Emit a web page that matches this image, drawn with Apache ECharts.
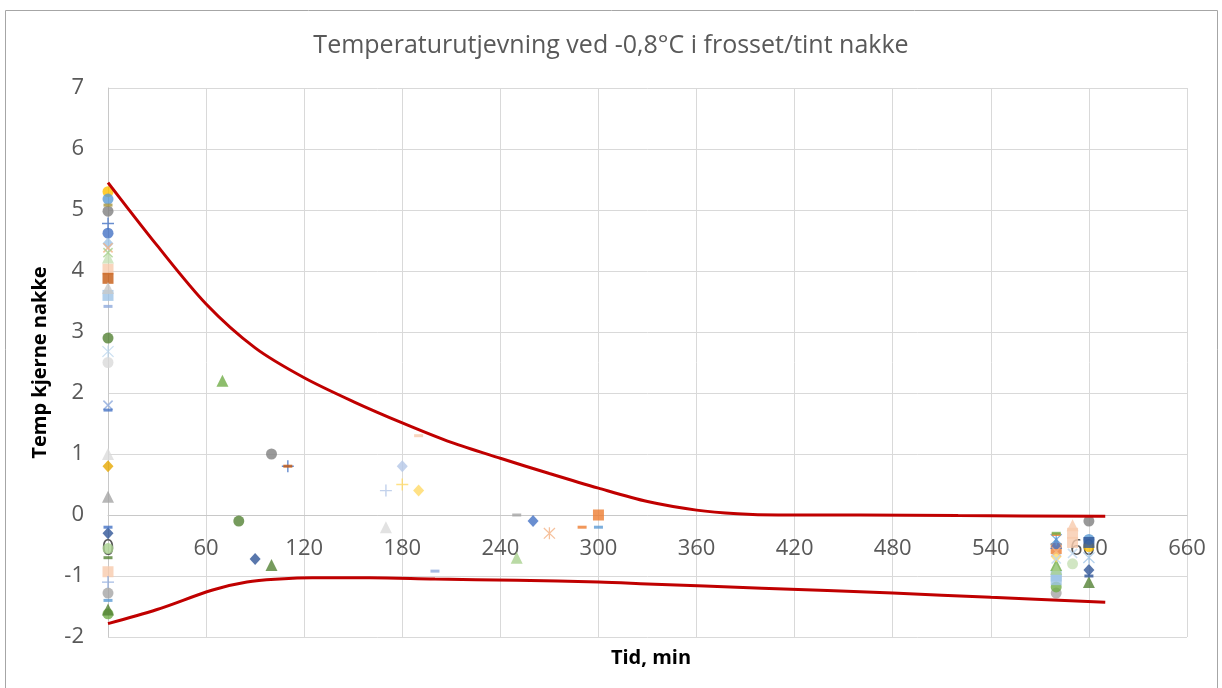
<!DOCTYPE html>
<html>
<head>
<meta charset="utf-8">
<script src="https://cdn.jsdelivr.net/npm/echarts@6/dist/echarts.min.js"></script>
<style>
  html, body { margin: 0; padding: 0; background: #fff; }
  #chart { width: 1222px; height: 688px; }
</style>
</head>
<body>
<div id="chart"></div>
<script>
// Axis ticks
const xTicks = [0, 60, 120, 180, 240, 300, 360, 420, 480, 540, 600, 660];
const yTicks = [-2, -1, 0, 1, 2, 3, 4, 5, 6, 7];

// Envelope curves (time in min, core temperature in °C)
const upperT = [0, 30, 60, 90, 120, 150, 180, 210, 240, 270, 300, 330, 360, 385, 410, 460, 520, 610];
const upperV = [5.45, 4.42, 3.46, 2.74, 2.25, 1.86, 1.51, 1.19, 0.93, 0.68, 0.44, 0.22, 0.08, 0.02, 0.0, 0.0, -0.01, -0.02];
const lowerT = [0, 30, 64, 85, 105, 125, 160, 200, 250, 300, 330, 400, 480, 540, 610];
const lowerV = [-1.78, -1.55, -1.23, -1.1, -1.05, -1.03, -1.03, -1.05, -1.07, -1.1, -1.13, -1.2, -1.28, -1.35, -1.43];

// Measurements, grouped by marker shape: [time, temp]
const circlePts = [[0, 5.3], [600, -0.52], [0, 5.18], [600, -0.4], [0, 4.98], [100, 1.0], [600, -0.1],
  [0, 4.62], [0, 2.9], [80, -0.1], [0, 2.5], [0, -0.55], [590, -0.8], [0, -1.28], [580, -1.28],
  [0, -1.62], [580, -1.18]];
const circleCols = ['#FFC000', '#FFC000', '#5B9BD5', '#5B9BD5', '#7F7F7F', '#7F7F7F', '#7F7F7F',
  '#4472C4', '#548235', '#548235', '#D9D9D9', '#A9D18E', '#C5E0B4', '#A5A5A5', '#A5A5A5',
  '#70AD47', '#70AD47'];

const squarePts = [[0, 4.03], [0, -0.93], [590, -0.3], [590, -0.45], [0, 3.88], [0, 3.6], [580, -1.0], [580, -1.06],
  [300, 0.0], [580, -0.55], [600, -0.45]];
const squareCols = ['#F8CBAD', '#F8CBAD', '#F8CBAD', '#F8CBAD', '#C55A11', '#9DC3E6', '#9DC3E6', '#9DC3E6',
  '#ED7D31', '#ED7D31', '#2F5597'];

const trianglePts = [[0, 3.72], [0, 1.0], [170, -0.2], [0, 0.3], [0, -1.55], [100, -0.82], [600, -1.1],
  [70, 2.2], [580, -0.82], [250, -0.7], [580, -0.88], [580, -0.46], [590, -0.17], [0, 4.22]];
const triangleCols = ['#C9C9C9', '#DBDBDB', '#DBDBDB', '#A5A5A5', '#548235', '#548235', '#548235',
  '#70AD47', '#70AD47', '#A9D18E', '#A9D18E', '#4472C4', '#F8CBAD', '#C5E0B4'];

const diamondPts = [[0, 4.45], [0, 0.8], [0, -0.3], [90, -0.72], [600, -0.9], [180, 0.8], [190, 0.4],
  [580, -0.68], [260, -0.1]];
const diamondCols = ['#9DC3E6', '#E6A800', '#2F5597', '#2F5597', '#2F5597', '#B4C7E7', '#FFD966',
  '#FFD966', '#4472C4'];

const plusPts = [[0, 4.78], [110, 0.8], [0, -1.1], [170, 0.4], [180, 0.5]];
const plusCols = ['#4472C4', '#4472C4', '#8FAADC', '#B4C7E7', '#FFD966'];

const crossPts = [[0, 4.38], [580, -0.6], [0, 4.3], [0, 1.8], [590, -0.63], [580, -0.72]];
const crossCols = ['#F4B183', '#F4B183', '#A9D18E', '#8FAADC', '#BDD7EE', '#BDD7EE'];

const starPts = [[0, 2.68], [600, -0.7], [270, -0.3], [580, -0.4]];
const starCols = ['#BDD7EE', '#9DC3E6', '#F4B183', '#5B9BD5'];

const dashPts = [[0, 5.08], [0, 3.42], [200, -0.92], [0, 1.72], [0, -0.2], [0, -0.7], [0, -1.4],
  [110, 0.8], [190, 1.3], [250, 0.0], [290, -0.2], [580, -0.32], [300, -0.2], [580, -0.3], [600, -1.0]];
const dashCols = ['#A5933C', '#8FAADC', '#8FAADC', '#4472C4', '#4472C4', '#548235', '#5B9BD5',
  '#C55A11', '#F8CBAD', '#A5A5A5', '#ED7D31', '#ED7D31', '#5B9BD5', '#70AD47', '#2F5597'];

// Marker shapes
const PLUS = 'path://M4.4,0h1.2v4.4h4.4v1.2h-4.4v4.4h-1.2v-4.4h-4.4v-1.2h4.4z';
const STAR = 'path://M4.5,0h1v10h-1z M0.9,0.2l8.9,8.9l-0.7,0.7l-8.9,-8.9z M9.1,0.2l0.7,0.7l-8.9,8.9l-0.7,-0.7z';

// Plot area geometry
const GRID = { left: 108, right: 35, top: 88, bottom: 51 };
const PLOT_H = 688 - GRID.top - GRID.bottom;
// the time axis is drawn across the 0 °C level
const zeroOffset = -PLOT_H * (0 - yTicks[0]) / (yTicks[yTicks.length - 1] - yTicks[0]);

function pairs(ts, vs) {
  return ts.map((t, i) => [t, vs[i]]);
}

function markerSeries(name, pts, cols, symbol, size, rotate) {
  return {
    name: name,
    type: 'scatter',
    symbol: symbol,
    symbolSize: size,
    symbolRotate: rotate || 0,
    z: 3,
    data: pts.map((p, i) => ({ value: p, itemStyle: { color: cols[i] } }))
  };
}

const curveStyle = { color: '#C00000', width: 3 };

const chart = echarts.init(document.getElementById('chart'), null, { renderer: 'canvas' });

const option = {
  backgroundColor: '#ffffff',
  animation: false,
  title: [
    {
      text: 'Temperaturutjevning ved -0,8°C i frosset/tint nakke',
      left: 'center',
      top: 28,
      textStyle: { fontFamily: 'Open Sans', fontSize: 25, fontWeight: 'normal', color: '#595959' }
    },
    {
      text: 'Tid, min',
      left: 646,
      top: 643,
      textAlign: 'center',
      textStyle: { fontFamily: 'Open Sans', fontSize: 20, fontWeight: 'bold', color: '#000000' }
    }
  ],
  graphic: [
    {
      type: 'rect',
      shape: { x: 5.5, y: 10.5, width: 1212, height: 690 },
      style: { fill: 'none', stroke: '#A6A6A6', lineWidth: 1 },
      silent: true,
      z: -1
    }
  ],
  grid: { left: GRID.left, right: GRID.right, top: GRID.top, bottom: GRID.bottom, containLabel: false },
  xAxis: {
    type: 'value',
    position: 'bottom',
    offset: zeroOffset,
    min: xTicks[0],
    max: xTicks[xTicks.length - 1],
    interval: xTicks[1] - xTicks[0],
    axisLine: { show: true, onZero: false, lineStyle: { color: '#C8C8C8', width: 1 } },
    axisTick: { show: false },
    axisLabel: {
      margin: 23,
      fontFamily: 'Open Sans',
      fontSize: 22,
      color: '#595959',
      showMinLabel: true,
      showMaxLabel: true
    },
    splitLine: { show: true, lineStyle: { color: '#D9D9D9', width: 1 } }
  },
  yAxis: {
    type: 'value',
    min: yTicks[0],
    max: yTicks[yTicks.length - 1],
    interval: yTicks[1] - yTicks[0],
    name: 'Temp kjerne nakke',
    nameLocation: 'middle',
    nameGap: 58,
    nameTextStyle: { fontFamily: 'Open Sans', fontSize: 20, fontWeight: 'bold', color: '#000000' },
    axisLine: { show: true, onZero: false, lineStyle: { color: '#C8C8C8', width: 1 } },
    axisTick: { show: false },
    axisLabel: { margin: 24, fontFamily: 'Open Sans', fontSize: 22, color: '#595959' },
    splitLine: { show: true, lineStyle: { color: '#D9D9D9', width: 1 } }
  },
  series: [
    {
      name: 'Øvre',
      type: 'line',
      smooth: 0.3,
      showSymbol: false,
      z: 4,
      lineStyle: curveStyle,
      data: pairs(upperT, upperV)
    },
    {
      name: 'Nedre',
      type: 'line',
      smooth: 0.35,
      showSymbol: false,
      z: 4,
      lineStyle: curveStyle,
      data: pairs(lowerT, lowerV)
    },
    markerSeries('Sirkel', circlePts, circleCols, 'circle', 11),
    markerSeries('Kvadrat', squarePts, squareCols, 'rect', 11),
    markerSeries('Trekant', trianglePts, triangleCols, 'triangle', 12),
    markerSeries('Rute', diamondPts, diamondCols, 'diamond', [11, 12]),
    markerSeries('Pluss', plusPts, plusCols, PLUS, 12),
    markerSeries('Kryss', crossPts, crossCols, PLUS, 13, 45),
    markerSeries('Stjerne', starPts, starCols, STAR, 12),
    markerSeries('Strek', dashPts, dashCols, 'rect', [9, 3])
  ]
};

chart.setOption(option);
</script>
</body>
</html>
